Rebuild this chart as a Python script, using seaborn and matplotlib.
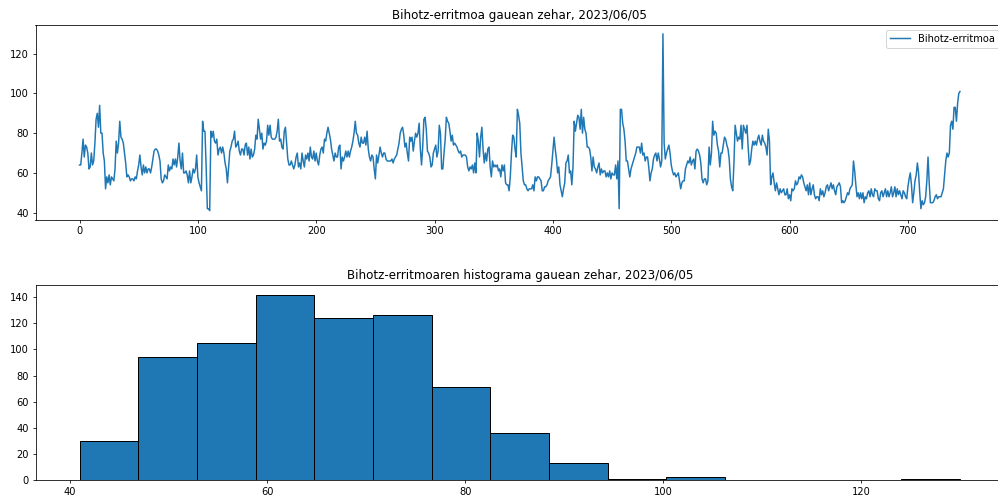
import numpy as np
import matplotlib
matplotlib.use("Agg")
import matplotlib.pyplot as plt
import seaborn as sns

# Heart rate samples over the night (one value per sample)
hr_part1 = [64, 64, 70, 77, 68, 74, 73, 70, 62, 63,
            70, 64, 66, 75, 87, 90, 83, 94, 80, 80,
            70, 66, 52, 58, 55, 59, 54, 58, 57, 56,
            62, 76, 70, 75, 86, 78, 77, 75, 70, 65,
            58, 59, 58, 56, 57, 57, 56, 58, 57, 61,
            64, 69, 63, 59, 64, 60, 63, 60, 62, 62,
            60, 63, 67, 71, 72, 72, 71, 69]
hr_part2 = [66, 57, 55, 56, 59, 58, 57, 64, 61, 63,
            62, 67, 64, 67, 63, 68, 75, 66, 62, 70,
            60, 60, 61, 59, 55, 61, 55, 58, 62, 60,
            62, 69, 58, 55, 53, 51, 86, 81, 81, 63,
            42, 42, 41, 81, 78, 81, 76, 75, 77, 69,
            72, 73, 70, 73, 70, 65, 62, 55, 63, 71,
            73, 76, 77, 81, 73, 74, 76, 71, 69, 72,
            72, 69, 74, 75, 69, 73, 67, 72, 68, 69,
            72, 79, 77, 87, 82, 77, 80, 72, 75, 74,
            76, 84, 79, 84, 78, 77, 77, 77, 78, 81,
            87, 76]
hr_part3 = [77, 73, 72, 81, 83, 75, 67, 64, 64, 66,
            64, 62, 64, 68, 70, 63, 65, 62, 70, 66,
            63, 69, 67, 70, 66, 73, 68, 67, 71, 66,
            70, 66, 64, 69, 72, 73, 70, 77, 76, 80,
            83, 80, 77, 72, 69, 66, 70, 68, 68, 73,
            74, 62, 68, 66, 68, 71, 68, 71, 68, 71,
            73, 76, 80, 86, 80, 79, 75, 73, 78, 75,
            75, 78, 74, 81, 72, 68, 66, 69, 68, 62,
            57, 69, 65, 69, 73, 70, 68, 70, 70, 67,
            66, 66, 66, 66, 67, 65, 67, 68, 69, 72,
            75]
hr_part4 = [80, 82, 83, 79, 73, 75, 70, 66, 78, 76,
            78, 71, 76, 80, 78, 80, 85, 72, 64, 73,
            87, 88, 82, 71, 70, 68, 63, 64, 70, 72,
            74, 68, 71, 84, 80, 62, 62, 70, 77, 88,
            86, 85, 81, 76, 79, 74, 75, 74, 73, 71,
            70, 71, 68, 69, 69, 69, 68, 63, 61, 63,
            62, 64, 60, 65, 60, 80, 76, 68, 78, 83,
            72, 65, 70, 66, 72, 73, 63, 58, 66, 63,
            64, 63, 64, 61, 62, 58, 64, 61, 64, 55,
            54, 54, 51, 58, 70, 79, 78, 72, 68, 92,
            89, 85]
hr_part5 = [70, 63, 56, 54, 54, 52, 51, 52, 52, 52,
            54, 51, 58, 56, 58, 58, 57, 56, 51, 51,
            53, 53, 54, 56, 57, 58, 64, 71, 78, 72,
            67, 60, 63, 54, 51, 48, 52, 55, 65, 66,
            69, 60, 61, 54, 63, 86, 81, 85, 89, 88,
            82, 92, 80, 88, 82, 80, 73, 73, 72, 68,
            61, 68, 63, 62, 60, 63, 65, 59, 62, 60,
            61, 61, 58, 60, 58, 61, 57, 60, 59, 59,
            64, 57, 66, 42, 92, 92, 85, 82, 76, 66,
            66, 62, 58, 62, 64, 66, 68, 70, 73, 73,
            73]
hr_part6 = [70, 75, 69, 70, 66, 68, 68, 63, 56, 60,
            62, 67, 69, 70, 66, 70, 67, 63, 66, 130,
            75, 67, 70, 72, 74, 70, 64, 61, 59, 60,
            58, 59, 60, 56, 52, 55, 56, 56, 62, 64,
            66, 65, 68, 64, 66, 67, 62, 71, 72, 71,
            69, 65, 57, 55, 57, 57, 54, 56, 73, 64,
            70, 86, 79, 81, 80, 74, 71, 63, 70, 70,
            74, 78, 77, 74, 72, 67, 57, 53, 51, 65,
            84, 80, 76, 78, 77, 84, 72, 84, 82, 80,
            84, 73, 64, 66, 72, 76, 74, 76, 74, 77,
            79]
hr_part7 = [76, 74, 79, 76, 75, 73, 69, 82, 76, 54,
            58, 60, 55, 51, 55, 52, 49, 52, 50, 51,
            52, 49, 49, 52, 47, 49, 46, 52, 51, 52,
            56, 54, 55, 58, 57, 59, 58, 55, 53, 51,
            54, 49, 55, 49, 52, 54, 49, 47, 48, 48,
            46, 52, 49, 51, 48, 50, 53, 54, 51, 53,
            55, 52, 54, 51, 49, 53, 54, 55, 53, 45,
            46, 45, 46, 48, 50, 49, 52, 53, 54, 66,
            61, 54, 48, 50, 47, 50, 47, 50, 45, 48,
            47, 50, 51, 48, 52, 49, 48, 52, 51, 51,
            47, 46]
hr_part8 = [50, 51, 48, 50, 52, 48, 51, 48, 50, 53,
            48, 50, 53, 48, 52, 49, 51, 49, 47, 51,
            50, 48, 47, 53, 57, 60, 54, 45, 50, 56,
            59, 65, 60, 50, 42, 46, 44, 45, 48, 56,
            68, 55, 45, 45, 45, 46, 48, 49, 47, 48,
            48, 48, 50, 52, 59, 66, 70, 68, 70, 84,
            86, 82, 93, 93, 86, 95, 100, 101]

# Histogram of the same night: 15 bins between the min and max value
hist_range = (41, 130)
hist_bins = 15
hist_counts = [30, 94, 105, 142, 124, 126, 71, 36, 13, 1, 2, 0, 0, 0, 1]

heart_rate = np.array(hr_part1 + hr_part2 + hr_part3 + hr_part4 +
                      hr_part5 + hr_part6 + hr_part7 + hr_part8)
sample_idx = np.arange(len(heart_rate))

edges = np.linspace(hist_range[0], hist_range[1], hist_bins + 1)
centers = (edges[:-1] + edges[1:]) / 2

dpi = 71.3
fig = plt.figure(figsize=(998 / dpi, 497 / dpi), dpi=dpi)
ax1 = fig.add_axes([35.5 / 998, (497 - 219.5) / 497, 968.5 / 998, 194.5 / 497])
ax2 = fig.add_axes([35.5 / 998, (497 - 480) / 497, 968.5 / 998, 194.7 / 497])

sns.lineplot(x=sample_idx, y=heart_rate, ax=ax1, color="#1f77b4",
             linewidth=1.5, label="Bihotz-erritmoa")
ax1.set_title("Bihotz-erritmoa gauean zehar, 2023/06/05")
ax1.legend(loc="upper right")
ax1.set_xlabel("")
ax1.set_ylabel("")

sns.histplot(x=centers, weights=hist_counts, bins=hist_bins, binrange=hist_range,
             ax=ax2, color="#1f77b4", alpha=1.0, edgecolor="black", linewidth=1)
ax2.set_title("Bihotz-erritmoaren histograma gauean zehar, 2023/06/05")
ax2.set_xlabel("")
ax2.set_ylabel("")
ax2.margins(x=0.05)

fig.savefig("out.png", dpi=dpi)
